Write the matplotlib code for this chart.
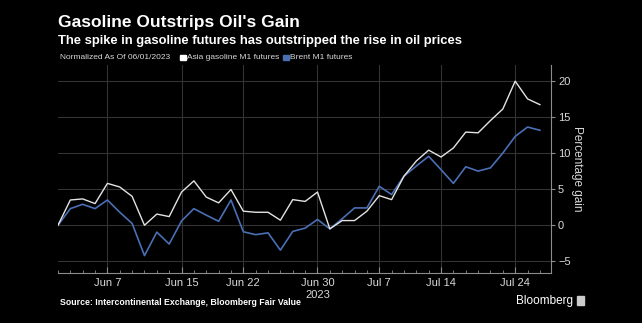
import matplotlib
matplotlib.use('Agg')
import matplotlib.pyplot as plt
import numpy as np

# trading days from Jun 1 to Jul 26, 2023 (weekdays)
days = ["Jun 1", "Jun 2", "Jun 5", "Jun 6", "Jun 7", "Jun 8", "Jun 9", "Jun 12",
        "Jun 13", "Jun 14", "Jun 15", "Jun 16", "Jun 19", "Jun 20", "Jun 21",
        "Jun 22", "Jun 23", "Jun 26", "Jun 27", "Jun 28", "Jun 29", "Jun 30",
        "Jul 3", "Jul 4", "Jul 5", "Jul 6", "Jul 7", "Jul 10", "Jul 11", "Jul 12",
        "Jul 13", "Jul 14", "Jul 17", "Jul 18", "Jul 19", "Jul 20", "Jul 21",
        "Jul 24", "Jul 25", "Jul 26"]

gasoline = [0.0, 3.5, 3.65, 3.0, 5.8, 5.3, 4.0, 0.0, 1.55, 1.2,
            4.6, 6.15, 3.9, 3.1, 4.95, 1.95, 1.8, 1.8, 0.7, 3.55,
            3.3, 4.6, -0.5, 0.65, 0.65, 1.95, 4.1, 3.55, 6.8, 8.9,
            10.4, 9.45, 10.7, 12.9, 12.8, 14.5, 16.1, 19.95, 17.5, 16.7]

brent = [0.0, 2.3, 2.9, 2.3, 3.5, 1.8, 0.25, -4.2, -0.95, -2.6,
         0.6, 2.3, 1.4, 0.55, 3.5, -0.9, -1.3, -1.05, -3.45, -0.85,
         -0.4, 0.8, -0.5, 0.9, 2.4, 2.4, 5.4, 4.25, 6.8, 8.2,
         9.55, 7.7, 5.8, 8.1, 7.5, 7.95, 10.0, 12.3, 13.6, 13.15]

tick_labels = ["Jun 7", "Jun 15", "Jun 22", "Jun 30", "Jul 7", "Jul 14", "Jul 24"]
y_ticks = [-5, 0, 5, 10, 15, 20]

x = np.arange(len(days))
tick_pos = [days.index(t) for t in tick_labels]

plt.rcParams['font.family'] = ['Liberation Sans', 'DejaVu Sans']

bg = "black"
grid_c = "#333333"
axis_c = "#8c8c8c"
text_c = "#d9d9d9"
white_c = "#e3e3e3"
blue_c = "#4a6fb5"

fig = plt.figure(figsize=(6.42, 3.23), dpi=100, facecolor=bg)
ax = fig.add_axes([0.0903, 0.155, 0.768, 0.644], facecolor=bg)

ax.plot(x, brent, color=blue_c, lw=1.2)
ax.plot(x, gasoline, color=white_c, lw=1.0)

ax.set_xlim(0, 39.9)
ax.set_ylim(-6.6, 22.2)

ax.set_xticks(tick_pos)
ax.set_xticklabels(tick_labels)
ax.set_xticks(x, minor=True)
ax.set_yticks(y_ticks)

ax.grid(True, which="major", color=grid_c, lw=0.8)
ax.set_axisbelow(True)

ax.yaxis.tick_right()
ax.yaxis.set_label_position("right")
ax.set_ylabel("Percentage gain", color=text_c, fontsize=8.5, rotation=270,
              labelpad=9)

for side in ["top", "left"]:
    ax.spines[side].set_visible(False)
for side in ["bottom", "right"]:
    ax.spines[side].set_color(axis_c)
    ax.spines[side].set_linewidth(0.8)

ax.tick_params(axis="x", which="major", direction="in", length=4, color=axis_c,
               labelcolor=text_c, labelsize=8, pad=4)
ax.tick_params(axis="x", which="minor", direction="in", length=2, color=axis_c)
ax.tick_params(axis="y", direction="out", length=3, color=axis_c,
               labelcolor=text_c, labelsize=8, pad=2)

ax.text(days.index("Jun 30"), -0.106, "2023", transform=ax.get_xaxis_transform(),
        ha="center", va="center", color=text_c, fontsize=8)

# titles
fig.text(0.0903, 0.93, "Gasoline Outstrips Oil's Gain", color="white",
         fontsize=12.5, fontweight="bold", va="center")
fig.text(0.0903, 0.874, "The spike in gasoline futures has outstripped the rise in oil prices",
         color="white", fontsize=9.4, fontweight="bold", va="center")

# legend row
fig.text(0.0935, 0.822, "Normalized As Of 06/01/2023", color=text_c, fontsize=6,
         va="center")
fig.patches.append(plt.Rectangle((0.2805, 0.813), 0.009, 0.018, color="white",
                                 transform=fig.transFigure, figure=fig))
fig.text(0.2915, 0.822, "Asia gasoline M1 futures", color=text_c, fontsize=6,
         va="center")
fig.patches.append(plt.Rectangle((0.4405, 0.813), 0.009, 0.018, color=blue_c,
                                 transform=fig.transFigure, figure=fig))
fig.text(0.4515, 0.822, "Brent M1 futures", color=text_c, fontsize=6,
         va="center")

# footer
fig.text(0.0935, 0.062, "Source: Intercontinental Exchange, Bloomberg Fair Value",
         color="white", fontsize=6.3, fontweight="bold", va="center")
fig.text(0.892, 0.068, "Bloomberg", color="white", fontsize=8.5, ha="right",
         va="center")
fig.patches.append(plt.Rectangle((0.898, 0.055), 0.012, 0.028, color="#cccccc",
                                 transform=fig.transFigure, figure=fig))

fig.savefig("out.png", dpi=100, facecolor=bg)
